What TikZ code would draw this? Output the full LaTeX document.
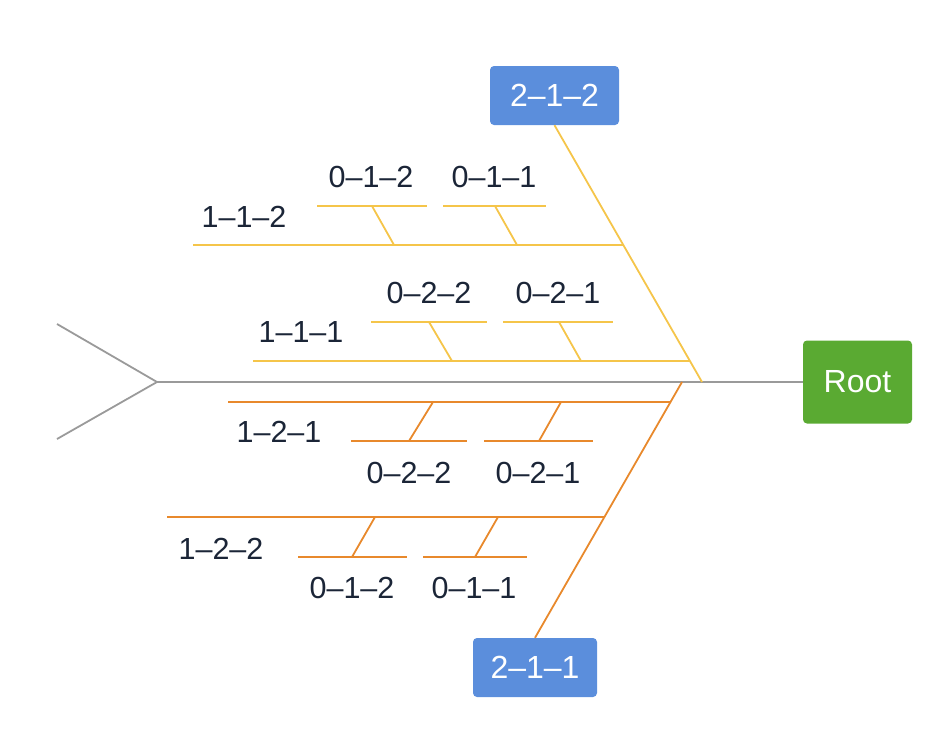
\documentclass[tikz,border=0pt]{standalone}
\usepackage{fontspec}
\setmainfont{Liberation Sans}
\definecolor{ylw}{HTML}{F5C54A}
\definecolor{org}{HTML}{E8892C}
\definecolor{spn}{HTML}{9A9A9A}
\definecolor{bluebox}{HTML}{5B8EDC}
\definecolor{greenbox}{HTML}{5AAA32}
\definecolor{txt}{HTML}{1B2537}
\begin{document}
\begin{tikzpicture}[x=1pt,y=-1pt,
  box/.style={rectangle,rounded corners=4pt,inner sep=0pt,text=white,font=\fontsize{32}{32}\selectfont},
  lbl/.style={inner sep=0pt,text=txt,font=\fontsize{30.5}{30.5}\selectfont},
  spine/.style={draw=spn,line width=1.8pt},
  yb/.style={draw=ylw,line width=1.8pt},
  ob/.style={draw=org,line width=1.8pt}]
\useasboundingbox (0,0) rectangle (946,742);
% boxes
\node[box,fill=greenbox,minimum width=109pt,minimum height=83pt] (root) at (857.5,382) {Root};
\node[box,fill=bluebox,minimum width=129pt,minimum height=59pt] (b212) at (554.5,95.5) {2–1–2};
\node[box,fill=bluebox,minimum width=124pt,minimum height=59pt] (b211) at (535,667.5) {2–1–1};
% spine and tail
\coordinate (head) at (157,382);
\coordinate (tailA) at (57,324);
\coordinate (tailB) at (57,439);
\draw[spine] (tailA) -- (head) -- (tailB);
\draw[spine] (head) -- (head -| root.west);
% main diagonals
\coordinate (yj) at (702,382);
\coordinate (oj) at (682,382);
\draw[yb] (b212.south) -- (yj);
\draw[ob] (b211.north) -- (oj);
% yellow branches
\coordinate (y1L) at (193,245); \coordinate (y1R) at (623,245);
\coordinate (y2L) at (253,361); \coordinate (y2R) at (690,361);
\draw[yb] (y1L) -- (y1R);
\draw[yb] (y2L) -- (y2R);
\coordinate (a1L) at (317,206); \coordinate (a1R) at (427,206);
\coordinate (a1t) at (372,206); \coordinate (a1b) at (394,245);
\coordinate (a2L) at (443,206); \coordinate (a2R) at (546,206);
\coordinate (a2t) at (495,206); \coordinate (a2b) at (517,245);
\draw[yb] (a1L) -- (a1R); \draw[yb] (a1t) -- (a1b);
\draw[yb] (a2L) -- (a2R); \draw[yb] (a2t) -- (a2b);
\coordinate (c1L) at (371,322); \coordinate (c1R) at (487,322);
\coordinate (c1t) at (429,322); \coordinate (c1b) at (452,361);
\coordinate (c2L) at (503,322); \coordinate (c2R) at (613,322);
\coordinate (c2t) at (559,322); \coordinate (c2b) at (581,361);
\draw[yb] (c1L) -- (c1R); \draw[yb] (c1t) -- (c1b);
\draw[yb] (c2L) -- (c2R); \draw[yb] (c2t) -- (c2b);
% orange branches
\coordinate (o1L) at (228,402); \coordinate (o1R) at (670,402);
\coordinate (o2L) at (167,517); \coordinate (o2R) at (604,517);
\draw[ob] (o1L) -- (o1R);
\draw[ob] (o2L) -- (o2R);
\coordinate (d1L) at (351,441); \coordinate (d1R) at (467,441);
\coordinate (d1t) at (433,402); \coordinate (d1b) at (409,441);
\coordinate (d2L) at (484,441); \coordinate (d2R) at (593,441);
\coordinate (d2t) at (561,402); \coordinate (d2b) at (539,441);
\draw[ob] (d1L) -- (d1R); \draw[ob] (d1t) -- (d1b);
\draw[ob] (d2L) -- (d2R); \draw[ob] (d2t) -- (d2b);
\coordinate (e1L) at (298,557); \coordinate (e1R) at (407,557);
\coordinate (e1t) at (375,517); \coordinate (e1b) at (352,557);
\coordinate (e2L) at (423,557); \coordinate (e2R) at (527,557);
\coordinate (e2t) at (498,517); \coordinate (e2b) at (475,557);
\draw[ob] (e1L) -- (e1R); \draw[ob] (e1t) -- (e1b);
\draw[ob] (e2L) -- (e2R); \draw[ob] (e2t) -- (e2b);
% labels
\node[lbl] (t112) at (244,216.5) {1–1–2};
\node[lbl] (t111) at (301,332) {1–1–1};
\node[lbl] (t012a) at (371,177) {0–1–2};
\node[lbl] (t011a) at (494,177) {0–1–1};
\node[lbl] (t022a) at (429,293) {0–2–2};
\node[lbl] (t021a) at (558,293) {0–2–1};
\node[lbl] (t121) at (279,432) {1–2–1};
\node[lbl] (t022b) at (409,473) {0–2–2};
\node[lbl] (t021b) at (538,473) {0–2–1};
\node[lbl] (t122) at (221,549) {1–2–2};
\node[lbl] (t012b) at (352,588) {0–1–2};
\node[lbl] (t011b) at (474,588) {0–1–1};
\end{tikzpicture}
\end{document}
